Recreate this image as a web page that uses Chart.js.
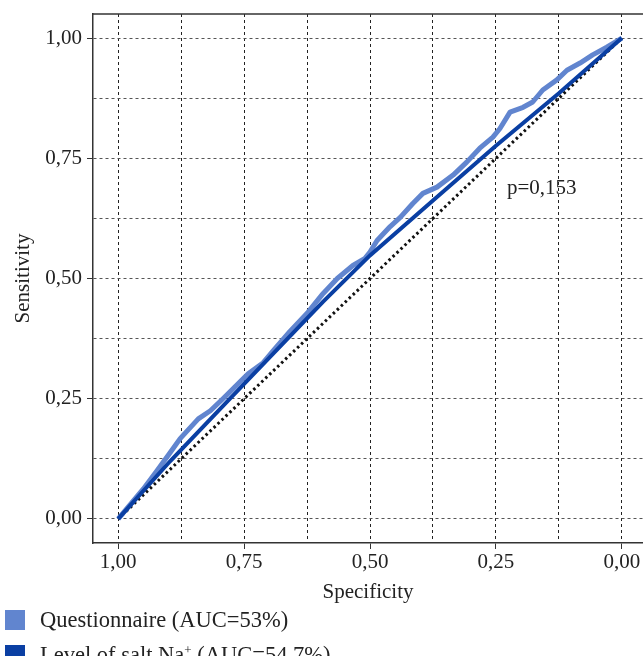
<!DOCTYPE html>
<html>
<head>
<meta charset="utf-8">
<script src="https://cdn.jsdelivr.net/npm/chart.js@4.4.1/dist/chart.umd.min.js"></script>
<style>
  body { margin: 0; background: #fff; overflow: hidden; }
  #wrap { position: relative; width: 643px; height: 656px; overflow: hidden; }
  #legend { position: absolute; left: 5px; top: 610px; font-family: "Liberation Serif", serif; font-size: 22.5px; color: #222; }
  .item { display: flex; align-items: center; height: 20px; margin-bottom: 15px; white-space: nowrap; }
  .box { width: 20px; height: 20px; margin-right: 15px; flex: none; }
  sup { font-size: 13px; line-height: 0; vertical-align: 8px; }
</style>
</head>
<body>
<div id="wrap">
  <canvas id="rocChart" width="643" height="656"></canvas>
  <div id="legend"></div>
</div>
<script>
// ROC curves, x = specificity (reversed), y = sensitivity

const seriesNames = ['Questionnaire (AUC=53%)', 'Level of salt Na⁺ (AUC=54,7%)'];
const seriesColors = ['#6185cf', '#0a3fa3'];

// Questionnaire curve
const questSpec = [1, 0.950, 0.923, 0.897, 0.877, 0.841, 0.817, 0.792, 0.762, 0.742, 0.712, 0.692, 0.659, 0.623,
    0.593, 0.565, 0.534, 0.510, 0.500, 0.486, 0.460, 0.440, 0.415, 0.395, 0.367, 0.335, 0.308, 0.282, 0.256,
    0.242, 0.222, 0.196, 0.177, 0.157, 0.129, 0.109, 0.083, 0.058, 0.030, 0];
const questSens = [0, 0.0625, 0.100, 0.1375, 0.167, 0.208, 0.225, 0.250, 0.281, 0.302, 0.325, 0.350, 0.390, 0.430,
    0.469, 0.500, 0.527, 0.542, 0.555, 0.579, 0.608, 0.627, 0.656, 0.677, 0.690, 0.715, 0.742, 0.771, 0.794,
    0.812, 0.846, 0.856, 0.867, 0.892, 0.913, 0.933, 0.948, 0.965, 0.981, 1];

// Salt level curve
const saltSpec = [1, 0.897, 0.778, 0.593, 0.500, 0.375, 0.250, 0.125, 0];
const saltSens = [0, 0.120, 0.250, 0.452, 0.548, 0.662, 0.776, 0.885, 1];

// Reference diagonal
const diagSpec = [1, 0];
const diagSens = [0, 1];

const tickValues = [0, 0.125, 0.25, 0.375, 0.5, 0.625, 0.75, 0.875, 1];
const majorTicks = [0, 0.25, 0.5, 0.75, 1];

const pText = 'p=0,153';
const pSpec = 0.159;
const pSens = 0.6875;

const toPoints = (xs, ys) => xs.map((x, i) => ({ x: x, y: ys[i] }));
const isMajor = (v) => majorTicks.some(m => Math.abs(m - v) < 1e-6);
const fmt = (v) => v.toFixed(2).replace('.', ',');
const serif = 'Liberation Serif';

// frame line along the top
const framePlugin = {
    id: 'frame',
    afterDraw(chart) {
        const { ctx, chartArea } = chart;
        ctx.save();
        ctx.strokeStyle = '#333';
        ctx.lineWidth = 1.5;
        ctx.beginPath();
        ctx.moveTo(chartArea.right + 2, chartArea.top);
        ctx.lineTo(chartArea.left, chartArea.top);
        ctx.stroke();
        ctx.restore();
    }
};

// p-value text
const pLabelPlugin = {
    id: 'pLabel',
    afterDatasetsDraw(chart) {
        const { ctx, scales } = chart;
        ctx.save();
        ctx.font = '21px "' + serif + '"';
        ctx.fillStyle = '#222';
        ctx.textAlign = 'center';
        ctx.textBaseline = 'middle';
        ctx.fillText(pText, scales.x.getPixelForValue(pSpec), scales.y.getPixelForValue(pSens));
        ctx.restore();
    }
};

const ctx = document.getElementById('rocChart').getContext('2d');
new Chart(ctx, {
    type: 'line',
    data: {
        datasets: [{
            label: seriesNames[1],
            data: toPoints(saltSpec, saltSens),
            borderColor: seriesColors[1],
            borderWidth: 4,
            order: 0
        }, {
            label: seriesNames[0],
            data: toPoints(questSpec, questSens),
            borderColor: seriesColors[0],
            borderWidth: 5,
            borderJoinStyle: 'round',
            order: 1
        }, {
            label: 'diagonal',
            data: toPoints(diagSpec, diagSens),
            borderColor: '#111',
            borderWidth: 3,
            borderDash: [2.5, 3],
            order: 2
        }]
    },
    options: {
        responsive: false,
        animation: false,
        parsing: false,
        elements: {
            line: { tension: 0, fill: false },
            point: { radius: 0, hoverRadius: 0 }
        },
        layout: { padding: { top: 14, right: 0, left: 0, bottom: 51 } },
        plugins: {
            legend: { display: false },
            tooltip: { enabled: false }
        },
        scales: {
            x: {
                type: 'linear',
                reverse: true,
                min: -0.042,
                max: 1.05,
                afterBuildTicks: (scale) => { scale.ticks = tickValues.map(v => ({ value: v })); },
                afterFit: (scale) => {
                    scale.height = 62;
                    scale.paddingLeft = 0;
                    scale.paddingRight = 0;
                },
                ticks: {
                    autoSkip: false,
                    maxRotation: 0,
                    padding: 1,
                    color: '#222',
                    font: { family: serif, size: 21 },
                    callback: (v) => isMajor(v) ? fmt(v) : ''
                },
                grid: {
                    color: '#222',
                    lineWidth: 1,
                    tickLength: 6,
                    tickColor: (c) => (c.tick && isMajor(c.tick.value)) ? '#333' : 'rgba(0,0,0,0)'
                },
                border: { display: true, color: '#333', width: 1.5, dash: [3, 3] },
                title: {
                    display: true,
                    text: 'Specificity',
                    color: '#222',
                    font: { family: serif, size: 21 },
                    padding: { top: 0, bottom: 0 }
                }
            },
            y: {
                type: 'linear',
                min: -0.05,
                max: 1.05,
                afterBuildTicks: (scale) => { scale.ticks = tickValues.map(v => ({ value: v })); },
                afterFit: (scale) => {
                    scale.width = 93;
                    scale.paddingTop = 0;
                    scale.paddingBottom = 0;
                },
                ticks: {
                    autoSkip: false,
                    padding: 5,
                    color: '#222',
                    font: { family: serif, size: 21 },
                    callback: (v) => isMajor(v) ? fmt(v) : ''
                },
                grid: {
                    color: '#555',
                    lineWidth: 1,
                    tickLength: 6,
                    tickColor: (c) => (c.tick && isMajor(c.tick.value)) ? '#333' : 'rgba(0,0,0,0)'
                },
                border: { display: true, color: '#333', width: 1.5, dash: [3, 3] },
                title: {
                    display: true,
                    text: 'Sensitivity',
                    color: '#222',
                    font: { family: serif, size: 21 },
                    padding: { top: 11, bottom: 0 }
                }
            }
        }
    },
    plugins: [framePlugin, pLabelPlugin]
});

// legend below the chart, one entry per line
const legend = document.getElementById('legend');
seriesNames.forEach((name, i) => {
    const item = document.createElement('div');
    item.className = 'item';
    item.innerHTML = '<span class="box" style="background:' + seriesColors[i] + '"></span><span>' +
        name.replace('⁺', '<sup>+</sup>') + '</span>';
    legend.appendChild(item);
});
</script>
</body>
</html>
